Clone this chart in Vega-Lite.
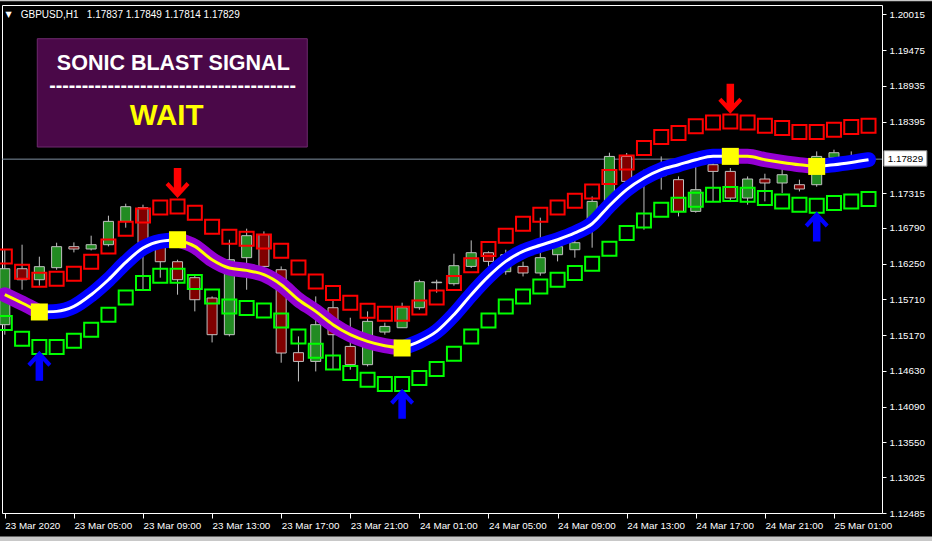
{
"$schema": "https://vega.github.io/schema/vega-lite/v6.json",
"width": 880, "height": 508,
"autosize": {"type": "none"},
"padding": {"left": 2, "top": 5, "right": 50, "bottom": 28},
"background": "#000000",
"config": {
 "view": {"stroke": "#ffffff", "strokeWidth": 1, "fill": "#000000"},
 "axis": {"grid": false, "labelFont": "Liberation Sans", "labelFontSize": 9.8, "labelColor": "#ffffff", "tickColor": "#ffffff", "domain": false, "title": null, "labelOverlap": false, "labelFlush": false}
},
"datasets": {
 "candles": [
  {"t":0,"o":1.15329,"h":1.16461,"l":1.15178,"c":1.16174},
  {"t":1,"o":1.16174,"h":1.16537,"l":1.15857,"c":1.16008},
  {"t":2,"o":1.16008,"h":1.16356,"l":1.15918,"c":1.16205},
  {"t":3,"o":1.16190,"h":1.16567,"l":1.16159,"c":1.16507},
  {"t":4,"o":1.16507,"h":1.16572,"l":1.16421,"c":1.16472},
  {"t":5,"o":1.16472,"h":1.16673,"l":1.16451,"c":1.16537},
  {"t":6,"o":1.16537,"h":1.16975,"l":1.16511,"c":1.16889},
  {"t":7,"o":1.16889,"h":1.17156,"l":1.16794,"c":1.17111},
  {"t":8,"o":1.17096,"h":1.17141,"l":1.15857,"c":1.16567},
  {"t":9,"o":1.16537,"h":1.16612,"l":1.16039,"c":1.16280},
  {"t":10,"o":1.16280,"h":1.16310,"l":1.15782,"c":1.16008},
  {"t":11,"o":1.16039,"h":1.16084,"l":1.15530,"c":1.15706},
  {"t":12,"o":1.15732,"h":1.15756,"l":1.15061,"c":1.15178},
  {"t":13,"o":1.15178,"h":1.16612,"l":1.15152,"c":1.16310},
  {"t":14,"o":1.16341,"h":1.16779,"l":1.15857,"c":1.16673},
  {"t":15,"o":1.16688,"h":1.16738,"l":1.16159,"c":1.16209},
  {"t":16,"o":1.16159,"h":1.16209,"l":1.14755,"c":1.14901},
  {"t":17,"o":1.14906,"h":1.15152,"l":1.14472,"c":1.14774},
  {"t":18,"o":1.14774,"h":1.15756,"l":1.14623,"c":1.15329},
  {"t":19,"o":1.15585,"h":1.15706,"l":1.14649,"c":1.15178},
  {"t":20,"o":1.15001,"h":1.15434,"l":1.14649,"c":1.14725},
  {"t":21,"o":1.14725,"h":1.15530,"l":1.14699,"c":1.15379},
  {"t":22,"o":1.15218,"h":1.15359,"l":1.15178,"c":1.15303},
  {"t":23,"o":1.15283,"h":1.15661,"l":1.15283,"c":1.15585},
  {"t":24,"o":1.15585,"h":1.16008,"l":1.15555,"c":1.15978},
  {"t":25,"o":1.15963,"h":1.16008,"l":1.15812,"c":1.15971},
  {"t":26,"o":1.15948,"h":1.16401,"l":1.15918,"c":1.16220},
  {"t":27,"o":1.16209,"h":1.16602,"l":1.16185,"c":1.16416},
  {"t":28,"o":1.16416,"h":1.16436,"l":1.16159,"c":1.16285},
  {"t":29,"o":1.16129,"h":1.16461,"l":1.16084,"c":1.16386},
  {"t":30,"o":1.16209,"h":1.16280,"l":1.16058,"c":1.16110},
  {"t":31,"o":1.16110,"h":1.16945,"l":1.16069,"c":1.16341},
  {"t":32,"o":1.16386,"h":1.16612,"l":1.16285,"c":1.16507},
  {"t":33,"o":1.16461,"h":1.16643,"l":1.16341,"c":1.16567},
  {"t":34,"o":1.16794,"h":1.17266,"l":1.16492,"c":1.17191},
  {"t":35,"o":1.17191,"h":1.17926,"l":1.17141,"c":1.17870},
  {"t":36,"o":1.17870,"h":1.17922,"l":1.17473,"c":1.17493},
  {"t":37,"o":1.17488,"h":1.17670,"l":1.16763,"c":1.17579},
  {"t":38,"o":1.17579,"h":1.17870,"l":1.17368,"c":1.17639},
  {"t":39,"o":1.17519,"h":1.17568,"l":1.16964,"c":1.17040},
  {"t":40,"o":1.17040,"h":1.17719,"l":1.17020,"c":1.17368},
  {"t":41,"o":1.17745,"h":1.17896,"l":1.17191,"c":1.17644},
  {"t":42,"o":1.17644,"h":1.17695,"l":1.17191,"c":1.17242},
  {"t":43,"o":1.17242,"h":1.17568,"l":1.17141,"c":1.17529},
  {"t":44,"o":1.17529,"h":1.17609,"l":1.17191,"c":1.17469},
  {"t":45,"o":1.17469,"h":1.17821,"l":1.17318,"c":1.17594},
  {"t":46,"o":1.17443,"h":1.17519,"l":1.17342,"c":1.17378},
  {"t":47,"o":1.17443,"h":1.17946,"l":1.17413,"c":1.17870},
  {"t":48,"o":1.17851,"h":1.17972,"l":1.17821,"c":1.17926},
  {"t":49,"o":1.17866,"h":1.17946,"l":1.17790,"c":1.17851},
  {"t":50,"o":1.17837,"h":1.17849,"l":1.17814,"c":1.17829}
 ],
 "bands": [
  {"t":0,"u":1.16360,"d":1.15354},{"t":1,"u":1.16129,"d":1.15117},{"t":2,"u":1.16008,"d":1.14992},
  {"t":3,"u":1.16023,"d":1.14992},{"t":4,"u":1.16099,"d":1.15087},{"t":5,"u":1.16280,"d":1.15253},
  {"t":6,"u":1.16511,"d":1.15480},{"t":7,"u":1.16779,"d":1.15741},{"t":8,"u":1.16979,"d":1.15958},
  {"t":9,"u":1.17100,"d":1.16069},{"t":10,"u":1.17115,"d":1.16069},{"t":11,"u":1.17020,"d":1.15974},
  {"t":12,"u":1.16809,"d":1.15756},{"t":13,"u":1.16658,"d":1.15605},{"t":14,"u":1.16628,"d":1.15581},
  {"t":15,"u":1.16587,"d":1.15545},{"t":16,"u":1.16446,"d":1.15394},{"t":17,"u":1.16194,"d":1.15152},
  {"t":18,"u":1.15983,"d":1.14936},{"t":19,"u":1.15807,"d":1.14759},{"t":20,"u":1.15661,"d":1.14599},
  {"t":21,"u":1.15540,"d":1.14498},{"t":22,"u":1.15495,"d":1.14433},{"t":23,"u":1.15495,"d":1.14433},
  {"t":24,"u":1.15590,"d":1.14524},{"t":25,"u":1.15741,"d":1.14660},{"t":26,"u":1.15958,"d":1.14891},
  {"t":27,"u":1.16227,"d":1.15152},{"t":28,"u":1.16472,"d":1.15394},{"t":29,"u":1.16673,"d":1.15605},
  {"t":30,"u":1.16854,"d":1.15756},{"t":31,"u":1.16990,"d":1.15907},{"t":32,"u":1.17100,"d":1.16008},
  {"t":33,"u":1.17201,"d":1.16110},{"t":34,"u":1.17342,"d":1.16250},{"t":35,"u":1.17559,"d":1.16477},
  {"t":36,"u":1.17780,"d":1.16714},{"t":37,"u":1.17997,"d":1.16904},{"t":38,"u":1.18163,"d":1.17066},
  {"t":39,"u":1.18224,"d":1.17141},{"t":40,"u":1.18324,"d":1.17217},{"t":41,"u":1.18384,"d":1.17292},
  {"t":42,"u":1.18399,"d":1.17303},{"t":43,"u":1.18384,"d":1.17292},{"t":44,"u":1.18334,"d":1.17242},
  {"t":45,"u":1.18299,"d":1.17191},{"t":46,"u":1.18239,"d":1.17141},{"t":47,"u":1.18239,"d":1.17126},
  {"t":48,"u":1.18274,"d":1.17167},{"t":49,"u":1.18314,"d":1.17191},{"t":50,"u":1.18334,"d":1.17227}
 ],
 "line": [
  {"t":0,"v":1.15782,"s":1,"tr":"down"},{"t":1,"v":1.15656,"s":1,"tr":"down"},{"t":2,"v":1.15521,"s":1,"tr":"down"},
  {"t":2,"v":1.15521,"s":2,"tr":"up"},{"t":3,"v":1.15530,"s":2,"tr":"up"},{"t":4,"v":1.15605,"s":2,"tr":"up"},
  {"t":5,"v":1.15782,"s":2,"tr":"up"},{"t":6,"v":1.16008,"s":2,"tr":"up"},{"t":7,"v":1.16270,"s":2,"tr":"up"},
  {"t":8,"v":1.16487,"s":2,"tr":"up"},{"t":9,"v":1.16587,"s":2,"tr":"up"},{"t":10,"v":1.16612,"s":2,"tr":"up"},
  {"t":10,"v":1.16612,"s":3,"tr":"down"},{"t":11,"v":1.16511,"s":3,"tr":"down"},{"t":12,"v":1.16310,"s":3,"tr":"down"},
  {"t":13,"v":1.16185,"s":3,"tr":"down"},{"t":14,"v":1.16149,"s":3,"tr":"down"},{"t":15,"v":1.16084,"s":3,"tr":"down"},
  {"t":16,"v":1.15933,"s":3,"tr":"down"},{"t":17,"v":1.15706,"s":3,"tr":"down"},{"t":18,"v":1.15530,"s":3,"tr":"down"},
  {"t":19,"v":1.15329,"s":3,"tr":"down"},{"t":20,"v":1.15178,"s":3,"tr":"down"},{"t":21,"v":1.15077,"s":3,"tr":"down"},
  {"t":22,"v":1.15012,"s":3,"tr":"down"},{"t":23,"v":1.14977,"s":3,"tr":"down"},
  {"t":23,"v":1.14977,"s":4,"tr":"up"},{"t":24,"v":1.15077,"s":4,"tr":"up"},{"t":25,"v":1.15228,"s":4,"tr":"up"},
  {"t":26,"v":1.15480,"s":4,"tr":"up"},{"t":27,"v":1.15782,"s":4,"tr":"up"},{"t":28,"v":1.16058,"s":4,"tr":"up"},
  {"t":29,"v":1.16285,"s":4,"tr":"up"},{"t":30,"v":1.16436,"s":4,"tr":"up"},{"t":31,"v":1.16529,"s":4,"tr":"up"},
  {"t":32,"v":1.16612,"s":4,"tr":"up"},{"t":33,"v":1.16714,"s":4,"tr":"up"},{"t":34,"v":1.16854,"s":4,"tr":"up"},
  {"t":35,"v":1.17126,"s":4,"tr":"up"},{"t":36,"v":1.17368,"s":4,"tr":"up"},{"t":37,"v":1.17544,"s":4,"tr":"up"},
  {"t":38,"v":1.17670,"s":4,"tr":"up"},{"t":39,"v":1.17745,"s":4,"tr":"up"},{"t":40,"v":1.17821,"s":4,"tr":"up"},
  {"t":41,"v":1.17874,"s":4,"tr":"up"},{"t":42,"v":1.17871,"s":4,"tr":"up"},
  {"t":42,"v":1.17871,"s":5,"tr":"down"},{"t":43,"v":1.17871,"s":5,"tr":"down"},{"t":44,"v":1.17821,"s":5,"tr":"down"},
  {"t":45,"v":1.17780,"s":5,"tr":"down"},{"t":46,"v":1.17745,"s":5,"tr":"down"},{"t":47,"v":1.17719,"s":5,"tr":"down"},
  {"t":47,"v":1.17719,"s":6,"tr":"up"},{"t":48,"v":1.17745,"s":6,"tr":"up"},{"t":49,"v":1.17780,"s":6,"tr":"up"},
  {"t":50,"v":1.17821,"s":6,"tr":"up"}
 ],
 "dots": [
  {"t":2,"v":1.15521},{"t":10,"v":1.16612},{"t":23,"v":1.14977},{"t":42,"v":1.17871},{"t":47,"v":1.17719}
 ],
 "arrows": [
  {"t":2,"v":1.14710,"dir":"up"},{"t":23,"v":1.14136,"dir":"up"},{"t":47,"v":1.16813,"dir":"up"},
  {"t":10,"v":1.17469,"dir":"down"},{"t":42,"v":1.18742,"dir":"down"}
 ],
 "chrome": [
  {"x1": -1, "x2": 55, "y1": 1.12130, "y2": 1.12030},
  {"x1": -1, "x2": 55, "y1": 1.20233, "y2": 1.20212}
 ]
},
"layer": [
 {
  "data": {"values": [{"v": 1.17829}]},
  "mark": {"type": "rule", "color": "#7f8fa0", "strokeWidth": 1},
  "encoding": {
   "y": {"field": "v", "type": "quantitative", "scale": {"domain": [1.12485, 1.20157], "nice": false, "zero": false, "padding": 0},
    "axis": {"orient": "right", "values": [1.12485,1.13025,1.13550,1.14090,1.14630,1.15170,1.15710,1.16250,1.16790,1.17315,1.18395,1.18935,1.19475,1.20015], "tickCount": 40, "format": ".5f", "tickSize": 4, "labelPadding": 3, "labelOverlap": false, "labelFlush": false}}
  }
 },
 {
  "data": {"name": "chrome"},
  "mark": {"type": "rect", "fill": "#c8c8c8", "clip": false},
  "encoding": {
   "x": {"field": "x1", "type": "quantitative", "scale": {"domain": [-0.162, 50.78], "nice": false, "zero": false, "padding": 0}},
   "x2": {"field": "x2"},
   "y": {"field": "y1", "type": "quantitative", "scale": {"domain": [1.12485, 1.20157], "nice": false, "zero": false, "padding": 0}},
   "y2": {"field": "y2"}
  }
 },
 {
  "data": {"name": "candles"},
  "mark": {"type": "rule", "color": "#c0c0c0", "strokeWidth": 1},
  "encoding": {
   "x": {"field": "t", "type": "quantitative", "scale": {"domain": [-0.162, 50.78], "nice": false, "zero": false, "padding": 0},
    "axis": {"orient": "bottom", "values": [0,4,8,12,16,20,24,28,32,36,40,44,48], "tickCount": 40, "labelExpr": "['23 Mar 2020','23 Mar 05:00','23 Mar 09:00','23 Mar 13:00','23 Mar 17:00','23 Mar 21:00','24 Mar 01:00','24 Mar 05:00','24 Mar 09:00','24 Mar 13:00','24 Mar 17:00','24 Mar 21:00','25 Mar 01:00'][round(datum.value/4)]", "labelAlign": "left", "labelBaseline": "top", "labelOffset": 0, "labelPadding": 2, "tickSize": 5, "labelFlush": false, "labelOverlap": false}},
   "y": {"field": "l", "type": "quantitative", "scale": {"domain": [1.12485, 1.20157], "nice": false, "zero": false, "padding": 0}},
   "y2": {"field": "h"}
  }
 },
 {
  "data": {"name": "candles"},
  "mark": {"type": "bar", "size": 10, "stroke": "#c0c0c0", "strokeWidth": 1},
  "encoding": {
   "x": {"field": "t", "type": "quantitative", "scale": {"domain": [-0.162, 50.78], "nice": false, "zero": false, "padding": 0}},
   "y": {"field": "o", "type": "quantitative", "scale": {"domain": [1.12485, 1.20157], "nice": false, "zero": false, "padding": 0}},
   "y2": {"field": "c"},
   "fill": {"condition": {"test": "datum.c >= datum.o", "value": "#228b22"}, "value": "#800000"}
  }
 },
 {
  "data": {"name": "bands"},
  "mark": {"type": "point", "shape": "square", "filled": false, "size": 196, "stroke": "#ff0000", "strokeWidth": 2, "opacity": 1},
  "encoding": {
   "x": {"field": "t", "type": "quantitative", "scale": {"domain": [-0.162, 50.78], "nice": false, "zero": false, "padding": 0}},
   "y": {"field": "u", "type": "quantitative", "scale": {"domain": [1.12485, 1.20157], "nice": false, "zero": false, "padding": 0}}
  }
 },
 {
  "data": {"name": "bands"},
  "mark": {"type": "point", "shape": "square", "filled": false, "size": 196, "stroke": "#00ff00", "strokeWidth": 2, "opacity": 1},
  "encoding": {
   "x": {"field": "t", "type": "quantitative", "scale": {"domain": [-0.162, 50.78], "nice": false, "zero": false, "padding": 0}},
   "y": {"field": "d", "type": "quantitative", "scale": {"domain": [1.12485, 1.20157], "nice": false, "zero": false, "padding": 0}}
  }
 },
 {
  "data": {"name": "line"},
  "mark": {"type": "line", "strokeWidth": 15, "strokeCap": "round", "strokeJoin": "round", "interpolate": "monotone"},
  "encoding": {
   "x": {"field": "t", "type": "quantitative", "scale": {"domain": [-0.162, 50.78], "nice": false, "zero": false, "padding": 0}},
   "y": {"field": "v", "type": "quantitative", "scale": {"domain": [1.12485, 1.20157], "nice": false, "zero": false, "padding": 0}},
   "detail": {"field": "s", "type": "nominal"},
   "color": {"condition": {"test": "datum.tr === 'up'", "value": "#0000ff"}, "value": "#9400d3"}
  }
 },
 {
  "data": {"name": "line"},
  "mark": {"type": "line", "strokeWidth": 3, "strokeCap": "butt", "interpolate": "monotone"},
  "encoding": {
   "x": {"field": "t", "type": "quantitative", "scale": {"domain": [-0.162, 50.78], "nice": false, "zero": false, "padding": 0}},
   "y": {"field": "v", "type": "quantitative", "scale": {"domain": [1.12485, 1.20157], "nice": false, "zero": false, "padding": 0}},
   "detail": {"field": "s", "type": "nominal"},
   "color": {"condition": {"test": "datum.tr === 'up'", "value": "#ffffff"}, "value": "#ffff00"}
  }
 },
 {
  "data": {"name": "dots"},
  "mark": {"type": "point", "shape": "square", "filled": true, "size": 289, "color": "#ffff00", "opacity": 1},
  "encoding": {
   "x": {"field": "t", "type": "quantitative", "scale": {"domain": [-0.162, 50.78], "nice": false, "zero": false, "padding": 0}},
   "y": {"field": "v", "type": "quantitative", "scale": {"domain": [1.12485, 1.20157], "nice": false, "zero": false, "padding": 0}}
  }
 },
 {
  "data": {"name": "arrows"},
  "transform": [{"filter": "datum.dir === 'up'"}],
  "mark": {"type": "point", "shape": "M0,-1L0.8,-0.13L0.6,0.07L0.25,-0.31L0.25,1L-0.25,1L-0.25,-0.31L-0.6,0.07L-0.8,-0.13Z", "filled": true, "size": 900, "color": "#0000ff", "opacity": 1},
  "encoding": {
   "x": {"field": "t", "type": "quantitative", "scale": {"domain": [-0.162, 50.78], "nice": false, "zero": false, "padding": 0}},
   "y": {"field": "v", "type": "quantitative", "scale": {"domain": [1.12485, 1.20157], "nice": false, "zero": false, "padding": 0}}
  }
 },
 {
  "data": {"name": "arrows"},
  "transform": [{"filter": "datum.dir === 'down'"}],
  "mark": {"type": "point", "shape": "M0,1L0.8,0.13L0.6,-0.07L0.25,0.31L0.25,-1L-0.25,-1L-0.25,0.31L-0.6,-0.07L-0.8,0.13Z", "filled": true, "size": 900, "color": "#ff0000", "opacity": 1},
  "encoding": {
   "x": {"field": "t", "type": "quantitative", "scale": {"domain": [-0.162, 50.78], "nice": false, "zero": false, "padding": 0}},
   "y": {"field": "v", "type": "quantitative", "scale": {"domain": [1.12485, 1.20157], "nice": false, "zero": false, "padding": 0}}
  }
 },
 {
  "data": {"values": [{"x1": 1.88, "x2": 17.51, "y1": 1.19648, "y2": 1.18012}]},
  "mark": {"type": "rect", "fill": "#4a0848", "stroke": "#6e2a6e", "strokeWidth": 1},
  "encoding": {
   "x": {"field": "x1", "type": "quantitative", "scale": {"domain": [-0.162, 50.78], "nice": false, "zero": false, "padding": 0}},
   "x2": {"field": "x2"},
   "y": {"field": "y1", "type": "quantitative", "scale": {"domain": [1.12485, 1.20157], "nice": false, "zero": false, "padding": 0}},
   "y2": {"field": "y2"}
  }
 },
 {
  "data": {"values": [{"t": 9.755, "v": 1.19180, "txt": "SONIC BLAST SIGNAL"}]},
  "mark": {"type": "text", "font": "Liberation Sans", "fontWeight": "bold", "fontSize": 21.5, "color": "#ffffff", "align": "center", "baseline": "alphabetic"},
  "encoding": {
   "x": {"field": "t", "type": "quantitative", "scale": {"domain": [-0.162, 50.78], "nice": false, "zero": false, "padding": 0}},
   "y": {"field": "v", "type": "quantitative", "scale": {"domain": [1.12485, 1.20157], "nice": false, "zero": false, "padding": 0}},
   "text": {"field": "txt"}
  }
 },
 {
  "data": {"values": [{"t": 9.71, "v": 1.18843, "txt": "--------------------------------------"}]},
  "mark": {"type": "text", "font": "Liberation Sans", "fontWeight": "bold", "fontSize": 19.5, "color": "#ffffff", "align": "center", "baseline": "alphabetic"},
  "encoding": {
   "x": {"field": "t", "type": "quantitative", "scale": {"domain": [-0.162, 50.78], "nice": false, "zero": false, "padding": 0}},
   "y": {"field": "v", "type": "quantitative", "scale": {"domain": [1.12485, 1.20157], "nice": false, "zero": false, "padding": 0}},
   "text": {"field": "txt"}
  }
 },
 {
  "data": {"values": [{"t": 9.37, "v": 1.18349, "txt": "WAIT"}]},
  "mark": {"type": "text", "font": "Liberation Sans", "fontWeight": "bold", "fontSize": 29.5, "color": "#ffff00", "align": "center", "baseline": "alphabetic"},
  "encoding": {
   "x": {"field": "t", "type": "quantitative", "scale": {"domain": [-0.162, 50.78], "nice": false, "zero": false, "padding": 0}},
   "y": {"field": "v", "type": "quantitative", "scale": {"domain": [1.12485, 1.20157], "nice": false, "zero": false, "padding": 0}},
   "text": {"field": "txt"}
  }
 },
 {
  "data": {"values": [{"t": 0.214, "v": 1.20011, "txt": "▼"}]},
  "mark": {"type": "text", "font": "DejaVu Sans", "fontSize": 8, "color": "#ffffff", "align": "center", "baseline": "middle"},
  "encoding": {
   "x": {"field": "t", "type": "quantitative", "scale": {"domain": [-0.162, 50.78], "nice": false, "zero": false, "padding": 0}},
   "y": {"field": "v", "type": "quantitative", "scale": {"domain": [1.12485, 1.20157], "nice": false, "zero": false, "padding": 0}},
   "text": {"field": "txt"}
  }
 },
 {
  "data": {"values": [{"t": 0.92, "v": 1.20011, "txt": "GBPUSD,H1\u00a0\u00a0\u00a01.17837 1.17849 1.17814 1.17829"}]},
  "mark": {"type": "text", "font": "Liberation Sans", "fontSize": 10, "color": "#ffffff", "align": "left", "baseline": "middle"},
  "encoding": {
   "x": {"field": "t", "type": "quantitative", "scale": {"domain": [-0.162, 50.78], "nice": false, "zero": false, "padding": 0}},
   "y": {"field": "v", "type": "quantitative", "scale": {"domain": [1.12485, 1.20157], "nice": false, "zero": false, "padding": 0}},
   "text": {"field": "txt"}
  }
 },
 {
  "data": {"values": [{"x1": 50.89, "x2": 53.38, "y1": 1.17957, "y2": 1.17723}]},
  "mark": {"type": "rect", "fill": "#ffffff", "stroke": "#808080", "strokeWidth": 1, "clip": false},
  "encoding": {
   "x": {"field": "x1", "type": "quantitative", "scale": {"domain": [-0.162, 50.78], "nice": false, "zero": false, "padding": 0}},
   "x2": {"field": "x2"},
   "y": {"field": "y1", "type": "quantitative", "scale": {"domain": [1.12485, 1.20157], "nice": false, "zero": false, "padding": 0}},
   "y2": {"field": "y2"}
  }
 },
 {
  "data": {"values": [{"t": 52.14, "v": 1.17829, "txt": "1.17829"}]},
  "mark": {"type": "text", "font": "Liberation Sans", "fontSize": 9.8, "color": "#000000", "align": "center", "baseline": "middle", "clip": false},
  "encoding": {
   "x": {"field": "t", "type": "quantitative", "scale": {"domain": [-0.162, 50.78], "nice": false, "zero": false, "padding": 0}},
   "y": {"field": "v", "type": "quantitative", "scale": {"domain": [1.12485, 1.20157], "nice": false, "zero": false, "padding": 0}},
   "text": {"field": "txt"}
  }
 }
]
}
